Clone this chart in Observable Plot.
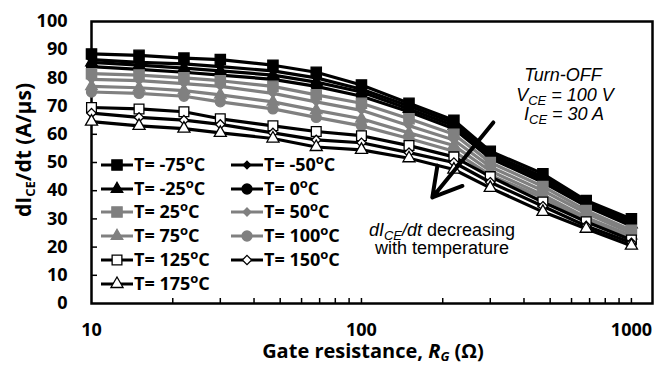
<!DOCTYPE html>
<html><head><meta charset="utf-8">
<script src="https://cdn.jsdelivr.net/npm/d3@7"></script>
<script src="https://cdn.jsdelivr.net/npm/@observablehq/plot@0.6"></script>
<style>body{margin:0;background:#fff} #chart{width:655px;height:367px}</style>
</head><body><div id="chart"></div>
<script>
// Gate resistance (Ohm)
const rg = [10,15,22,30,47,68,100,150,220,300,470,680,1000];
// dI_CE/dt (A/us) per temperature
const tM75 = [88.5,88,87,86.5,84.5,82,77.5,71,65,54,46,36.5,30];
const tM50 = [86.5,85.5,85,84,82.5,80,76,70,64,53,45,36,29];
const tM25 = [85.5,84.5,83.5,82.5,81,78.5,75,69,63,52.5,44,35,28];
const t0   = [84,83,82,81,79.5,77,73.5,68,62,51.5,43,34.5,27.5];
const t25  = [81.5,81,80,79,77,74,71,65.5,60,50,41.5,33,26];
const t50  = [79.5,79,78,77,74.5,71.5,68.5,63,58,48.5,40,32,25];
const t75  = [77,76.5,75.5,74,71.5,68.5,65.5,60.5,56,47,38.5,30.5,24];
const t100 = [75,74.5,73.5,71.5,69,66,63,58.5,54,45.5,37.5,29.5,23];
const t125 = [69.5,69,68,65.5,63,61,59.5,56,52,45,36,29,22.5];
const t150 = [67.5,66,65,63.5,60.5,58,57,53.5,50,43,34.5,27.5,21.5];
const t175 = [64.5,63,62,60.5,58.5,55.5,54.5,51.5,47.5,41,32.5,26.5,20.5];
const tempLabels = ["-75","-50","-25","0","25","50","75","100","125","150","175"];
const xTickLabels = [10,100,1000];
const yTickLabels = [0,10,20,30,40,50,60,70,80,90,100];
const xMinorTicks = [20,30,40,50,60,70,80,90,100,200,300,400,500,600,700,800,900,1000];
const yMinorTicks = [10,20,30,40,50,60,70,80,90];
// annotation arrow in data units
const arrowFrom = [308, 64.2];
const arrowTo = [183, 37.6];

const values = [tM75,tM50,tM25,t0,t25,t50,t75,t100,t125,t150,t175];
const GREY = "#808080";
const styles = [
  {line:"black", fill:"black", stroke:"black", symbol:"square", r:5.8},
  {line:"black", fill:"black", stroke:"black", symbol:"diamond2", r:3.4},
  {line:"black", fill:"black", stroke:"black", symbol:"triangle", r:4.3},
  {line:"black", fill:"black", stroke:"black", symbol:"circle", r:5},
  {line:GREY, fill:GREY, stroke:GREY, symbol:"square", r:5.8},
  {line:GREY, fill:GREY, stroke:GREY, symbol:"diamond2", r:3.6},
  {line:GREY, fill:GREY, stroke:GREY, symbol:"triangle", r:4.3},
  {line:GREY, fill:GREY, stroke:GREY, symbol:"circle", r:5},
  {line:"black", fill:"white", stroke:"black", symbol:"square", r:5.5},
  {line:"black", fill:"white", stroke:"black", symbol:"diamond2", r:4.2},
  {line:"black", fill:"white", stroke:"black", symbol:"triangle", r:4.5}
];
const series = values.map((v,k)=>({name:tempLabels[k], data: rg.map((x,i)=>({x, y:v[i]})), st: styles[k]}));

const marks = [Plot.frame({stroke:"black", strokeWidth:2.5})];
marks.push(Plot.axisX({ticks:xTickLabels, tickFormat:d=>String(d), tickSize:0, tickPadding:20, label:null, fontSize:18, fontWeight:"bold"}));
marks.push(Plot.axisX({ticks:xMinorTicks, tickFormat:()=>"", tickSize:-5, label:null, strokeWidth:1.5}));
marks.push(Plot.axisY({ticks:yTickLabels, tickSize:0, tickPadding:24, label:null, fontSize:18, fontWeight:"bold"}));
marks.push(Plot.axisY({ticks:yMinorTicks, tickFormat:()=>"", tickSize:-6, label:null, strokeWidth:1.5}));
for (const s of series) {
  marks.push(Plot.line(s.data, {x:"x", y:"y", stroke:s.st.line, strokeWidth:3.2}));
  marks.push(Plot.dot(s.data, {x:"x", y:"y", symbol:s.st.symbol, r:s.st.r, fill:s.st.fill, stroke:s.st.stroke, strokeWidth:1.3}));
}
marks.push(Plot.arrow([{x1:arrowFrom[0], y1:arrowFrom[1], x2:arrowTo[0], y2:arrowTo[1]}], {x1:"x1", y1:"y1", x2:"x2", y2:"y2", stroke:"black", strokeWidth:4, headLength:14}));

const chart = Plot.plot({
  width:655, height:367,
  marginLeft:91, marginRight:3, marginTop:21, marginBottom:64,
  style:{fontFamily:"'Open Sans', sans-serif", background:"white", color:"black"},
  x:{type:"log", domain:[10,1197]},
  y:{domain:[0,100]},
  marks
});
document.getElementById("chart").appendChild(chart);

const svg = d3.select(chart);
// Y axis title
const yt = svg.append("text").attr("transform","translate(31,150) rotate(-90)")
  .attr("text-anchor","middle").attr("font-family","'Open Sans', sans-serif")
  .attr("font-weight","bold").attr("font-size",21).attr("fill","black");
yt.append("tspan").text("dI");
yt.append("tspan").attr("font-size",13).attr("dy",4).text("CE");
yt.append("tspan").attr("dy",-4).text("/dt (A/µs)");
// X axis title
const xt = svg.append("text").attr("x",373).attr("y",358)
  .attr("text-anchor","middle").attr("font-family","'Open Sans', sans-serif")
  .attr("font-weight","bold").attr("font-size",20).attr("fill","black");
xt.append("tspan").text("Gate resistance, ");
xt.append("tspan").attr("font-style","italic").text("R");
xt.append("tspan").attr("font-style","italic").attr("font-size",13).attr("dy",3).text("G");
xt.append("tspan").attr("dy",-3).text(" (Ω)");

// Annotations
const af = "'Liberation Sans', Arial, sans-serif";
function ann(x, y, parts) {
  const t = svg.append("text").attr("x",x).attr("y",y).attr("text-anchor","middle")
    .attr("font-family",af).attr("font-size",18).attr("fill","black");
  for (const p of parts) {
    const ts = t.append("tspan").text(p.t);
    if (p.i) ts.attr("font-style","italic");
    if (p.sub) ts.attr("font-size",13).attr("dy",4);
    if (p.back) ts.attr("dy",-4);
  }
}
ann(563, 81, [{t:"Turn-OFF", i:1}]);
ann(565, 101, [{t:"V", i:1},{t:"CE", i:1, sub:1},{t:" = 100 V", i:1, back:1}]);
ann(564, 120, [{t:"I", i:1},{t:"CE", i:1, sub:1},{t:" = 30 A", i:1, back:1}]);
ann(442, 236, [{t:"dI", i:1},{t:"CE", i:1, sub:1},{t:"/dt", i:1, back:1},{t:" decreasing"}]);
ann(442, 254, [{t:"with temperature"}]);

// Legend
const lg = svg.append("g").attr("font-family","'Open Sans', sans-serif").attr("font-weight","bold").attr("font-size",18).attr("text-anchor","start");
const rowY = [165,189,212,236,260,284];
series.forEach((s,k)=>{
  const col = k===0 ? 0 : (k===1 ? 1 : (k-2)%2===0 ? 0 : 1);
  const row = k<2 ? 0 : 1 + Math.floor((k-2)/2);
  const x0 = col===0 ? 101 : 231;
  const y0 = rowY[row];
  const g = lg.append("g");
  g.append("line").attr("x1",x0).attr("x2",x0+32).attr("y1",y0).attr("y2",y0).attr("stroke",s.st.line).attr("stroke-width",3);
  const sym = {square:d3.symbolSquare, diamond2:d3.symbolDiamond2, triangle:d3.symbolTriangle, circle:d3.symbolCircle}[s.st.symbol];
  g.append("path").attr("d", d3.symbol(sym, Math.PI*s.st.r*s.st.r)()).attr("transform",`translate(${x0+16},${y0})`)
    .attr("fill",s.st.fill).attr("stroke",s.st.stroke).attr("stroke-width",1.3);
  const t = g.append("text").attr("x",x0+33).attr("y",y0+6).attr("fill","black").attr("text-anchor","start");
  t.append("tspan").text("T= " + s.name);
  t.append("tspan").attr("font-size",13).attr("dy",-7).text("o");
  t.append("tspan").attr("dy",7).text("C");
});
</script></body></html>
